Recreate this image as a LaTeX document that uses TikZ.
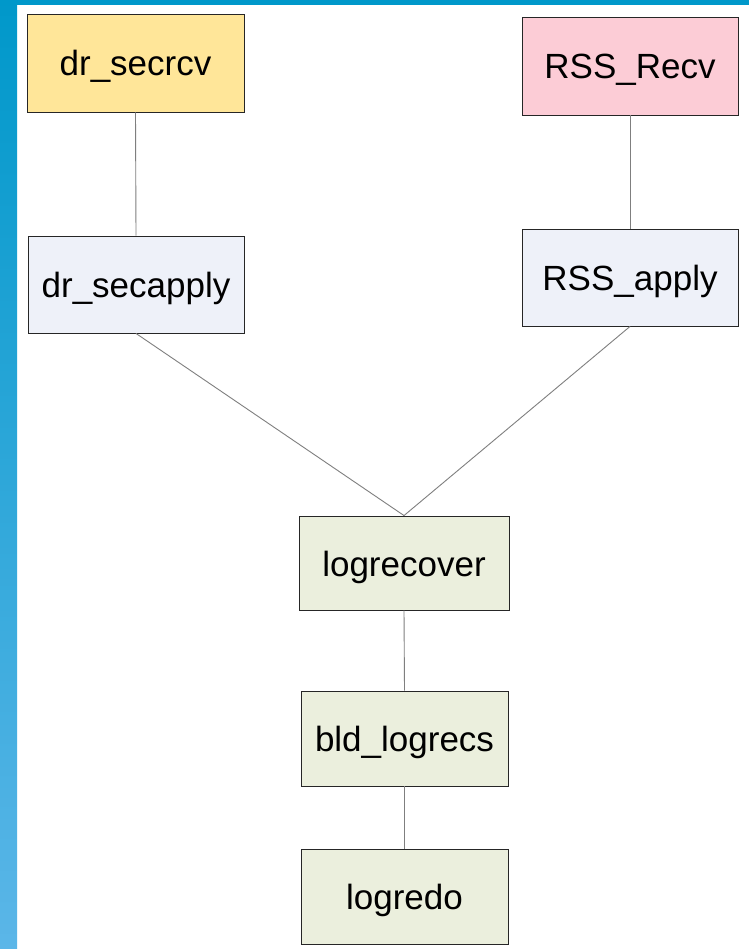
\documentclass[tikz,border=0pt]{standalone}
\usepackage{fontspec}
\setmainfont{Liberation Sans}
\usetikzlibrary{positioning}
\definecolor{barTop}{HTML}{0098CA}
\definecolor{barBot}{HTML}{5BB6E8}
\definecolor{fillYellow}{HTML}{FFE699}
\definecolor{fillPink}{HTML}{FCCCD6}
\definecolor{fillLav}{HTML}{EEF1F9}
\definecolor{fillGreen}{HTML}{EBEFDD}
\definecolor{edgeGray}{HTML}{7F7F7F}
\tikzset{
  box/.style={draw=black!85, line width=0.9pt, inner sep=0pt, anchor=center,
    text height=30pt, text depth=4pt,
    font=\fontsize{35}{40}\selectfont, text=black},
  link/.style={draw=edgeGray, line width=0.9pt},
}
\begin{document}
\begin{tikzpicture}[x=1pt,y=-1pt]
  % page and frame
  \fill[white] (0,0) rectangle (749,949);
  \useasboundingbox (0,0) rectangle (749,949);
  \shade[top color=barTop, bottom color=barBot] (0,0) rectangle (17,949);
  \fill[barTop] (0,0) rectangle (749,5);

  % boxes
  \node[box, fill=fillYellow, minimum width=217pt, minimum height=98pt] (secrcv) at (135.5,63) {dr\_secrcv};
  \node[box, fill=fillPink, minimum width=216pt, minimum height=98pt] (rssrecv) at (630,66) {RSS\_Recv};
  \node[box, fill=fillLav, minimum width=216pt, minimum height=97pt] (secapply) at (136,284.5) {dr\_secapply};
  \node[box, fill=fillLav, minimum width=216pt, minimum height=97pt] (rssapply) at (630,277.5) {RSS\_apply};
  \node[box, fill=fillGreen, minimum width=210pt, minimum height=94pt] (logrecover) at (404,563) {logrecover};
  \node[box, fill=fillGreen, minimum width=207pt, minimum height=95pt] (bldlogrecs) at (404.5,738.5) {bld\_logrecs};
  \node[box, fill=fillGreen, minimum width=207pt, minimum height=95pt] (logredo) at (404.5,896.5) {logredo};

  % connectors
  \draw[link] (secrcv.south) -- (secapply.north);
  \draw[link] (rssrecv.south) -- (rssapply.north);
  \draw[link] (secapply.south) -- (logrecover.north);
  \draw[link] (rssapply.south) -- (logrecover.north);
  \draw[link] (logrecover.south) -- (bldlogrecs.north);
  \draw[link] (bldlogrecs.south) -- (logredo.north);
\end{tikzpicture}
\end{document}
